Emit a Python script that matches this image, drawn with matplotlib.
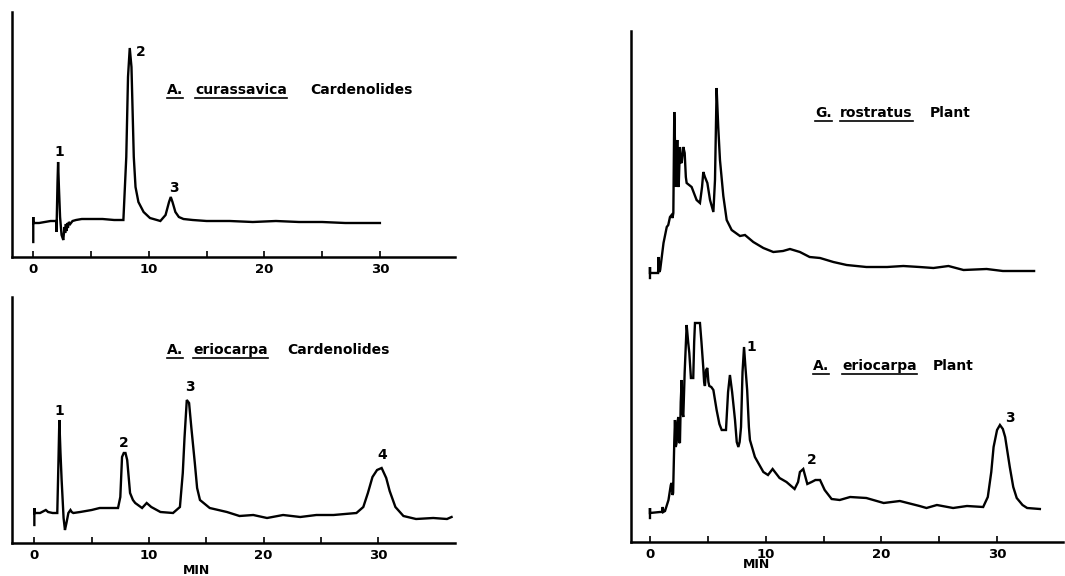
import matplotlib.pyplot as plt
from matplotlib.lines import Line2D

W, H = 1065, 576

# (retention time in min, detector response)
cur_cd = [(0, 15), (0, 40), (0, 34), (0.5, 34), (1.0, 35), (1.5, 36), (2.0, 36), (2.0, 25),
          (2.03, 36), (2.1, 75), (2.15, 95), (2.22, 70), (2.32, 40), (2.45, 22), (2.6, 17),
          (2.7, 30), (2.76, 24), (2.82, 33), (2.88, 26), (2.94, 34), (3.0, 29), (3.08, 35),
          (3.2, 33), (3.4, 36), (3.7, 37), (4.2, 38), (5.0, 38), (6.0, 38), (7.0, 37), (7.8, 37),
          (8.05, 100), (8.2, 180), (8.35, 209), (8.5, 190), (8.7, 100), (8.85, 70), (9.1, 55),
          (9.55, 45), (10.1, 39), (11.0, 36), (11.45, 42), (11.75, 55), (11.9, 60), (12.05, 55),
          (12.3, 45), (12.6, 40), (13.0, 38), (13.8, 37), (15, 36), (17, 36), (19, 35), (21, 36),
          (23, 35), (25, 35), (27, 34), (30, 34)]

eri_cd = [(0, 18), (0, 35), (0, 30), (0.5, 30), (1.0, 33), (1.2, 31), (1.6, 30), (2.0, 30),
          (2.1, 80), (2.18, 123), (2.28, 90), (2.38, 63), (2.55, 25), (2.67, 13), (2.8, 20),
          (2.97, 30), (3.15, 33), (3.26, 31), (3.4, 30), (4.0, 31), (5.0, 33), (5.7, 35),
          (6.5, 35), (7.3, 35), (7.5, 46), (7.65, 86), (7.8, 90), (7.95, 90), (8.1, 83),
          (8.35, 50), (8.6, 43), (8.8, 40), (9.4, 35), (9.8, 40), (10.2, 36), (11.0, 31),
          (12.1, 30), (12.7, 36), (12.95, 70), (13.1, 105), (13.3, 143), (13.5, 140),
          (13.7, 115), (14.0, 80), (14.2, 55), (14.45, 43), (15.3, 35), (16.8, 31), (17.9, 27),
          (19.1, 28), (20.3, 25), (21.7, 28), (23.2, 26), (24.6, 28), (26.1, 28), (28.1, 30),
          (28.7, 36), (29.1, 50), (29.5, 66), (29.9, 73), (30.3, 75), (30.7, 65), (31.0, 52),
          (31.5, 36), (32.2, 27), (33.3, 24), (34.8, 25), (36.0, 24), (36.4, 26)]

gro_pl = [(0, 24), (0, 35), (0, 29), (0.7, 29), (0.74, 45), (0.8, 30), (0.88, 32), (1.17, 59),
          (1.45, 75), (1.58, 77), (1.73, 85), (1.87, 87), (1.95, 84), (2.02, 89), (2.1, 190),
          (2.18, 150), (2.25, 115), (2.36, 162), (2.42, 120), (2.48, 115), (2.59, 155),
          (2.66, 140), (2.74, 139), (2.88, 155), (3.0, 149), (3.1, 125), (3.17, 119), (3.6, 115),
          (4.03, 102), (4.32, 99), (4.5, 115), (4.61, 130), (4.75, 125), (4.96, 119), (5.19, 102),
          (5.48, 90), (5.62, 122), (5.76, 214), (5.9, 175), (6.05, 142), (6.34, 106), (6.63, 82),
          (7.06, 72), (7.78, 66), (8.21, 67), (8.93, 60), (9.8, 54), (10.66, 50), (11.5, 51),
          (12.1, 53), (12.96, 50), (13.8, 45), (14.7, 44), (15.85, 40), (17.0, 37), (18.7, 35),
          (20.5, 35), (21.9, 36), (23.3, 35), (24.5, 34), (25.8, 36), (27.1, 32), (29.1, 33),
          (30.5, 31), (33.2, 31)]

eri_pl = [(0, 24), (0, 34), (0, 29), (0.86, 30), (1.05, 30), (1.1, 35), (1.15, 30), (1.3, 31),
          (1.6, 42), (1.8, 57), (1.87, 59), (1.95, 47), (2.0, 49), (2.1, 100), (2.16, 122),
          (2.23, 95), (2.3, 99), (2.38, 120), (2.45, 125), (2.52, 100), (2.59, 99), (2.66, 140),
          (2.74, 162), (2.8, 130), (2.88, 125), (3.0, 170), (3.17, 217), (3.3, 200), (3.4, 189),
          (3.54, 164), (3.74, 164), (3.82, 200), (3.89, 219), (4.32, 219), (4.45, 200),
          (4.61, 174), (4.68, 160), (4.75, 156), (4.85, 172), (4.96, 174), (5.05, 160),
          (5.13, 156), (5.3, 155), (5.48, 152), (5.76, 132), (6.0, 118), (6.2, 112), (6.57, 112),
          (6.75, 150), (6.91, 167), (7.1, 150), (7.35, 122), (7.5, 100), (7.64, 95), (7.75, 100),
          (7.87, 115), (8.0, 170), (8.13, 195), (8.25, 175), (8.4, 152), (8.55, 115), (8.64, 102),
          (9.07, 85), (9.8, 70), (10.2, 67), (10.6, 73), (11.2, 64), (11.8, 60), (12.5, 53),
          (12.8, 60), (12.96, 70), (13.25, 73), (13.6, 58), (13.97, 60), (14.3, 62), (14.7, 62),
          (15.1, 52), (15.7, 43), (16.4, 42), (17.3, 45), (18.7, 44), (20.2, 39), (21.6, 41),
          (23.3, 36), (23.9, 34), (24.8, 37), (26.2, 34), (27.4, 36), (28.8, 35), (29.2, 45),
          (29.5, 70), (29.7, 95), (30.0, 112), (30.25, 117), (30.5, 113), (30.7, 105),
          (31.1, 75), (31.4, 55), (31.7, 44), (32.2, 37), (32.6, 34), (33.7, 33)]

major_ticks = [0, 10, 20, 30]
minor_ticks = [5, 15, 25]

# G. rostratus trace sits above the A. eriocarpa one on the shared axis
GRO_SHIFT = 240

fig = plt.figure(figsize=(W / 100, H / 100), dpi=100)


def setup(ax, xlim, ylim, xlabels=True):
    ax.set_xlim(*xlim)
    ax.set_ylim(*ylim)
    for side in ['top', 'right']:
        ax.spines[side].set_visible(False)
    for side in ['left', 'bottom']:
        ax.spines[side].set_linewidth(1.8)
    ax.set_yticks([])
    ax.set_xticks(major_ticks)
    ax.set_xticks(minor_ticks, minor=True)
    ax.set_xticklabels([str(t) for t in major_ticks])
    ax.tick_params(axis='x', which='both', direction='in', length=4, width=1.2,
                   labelsize=9.5, pad=4)
    for lab in ax.get_xticklabels():
        lab.set_fontweight('bold')


def trace(ax, pts, shift=0):
    ax.plot([p[0] for p in pts], [p[1] + shift for p in pts], color='black', lw=1.7,
            solid_joinstyle='miter')


ax1 = fig.add_axes([12 / W, 1 - 257 / H, 443 / W, 245 / H])
setup(ax1, (-1.84, 36.5), (0, 245))
trace(ax1, cur_cd)

ax2 = fig.add_axes([12 / W, 1 - 543 / H, 443 / W, 246 / H])
setup(ax2, (-1.95, 36.7), (0, 246))
trace(ax2, eri_cd)

ax3 = fig.add_axes([631 / W, 1 - 542 / H, 432 / W, 511 / H])
setup(ax3, (-1.64, 35.7), (0, 511))
trace(ax3, gro_pl, GRO_SHIFT)
trace(ax3, eri_pl)


def ftext(x, y, s, size=10, **kw):
    return fig.text(x / W, 1 - y / H, s, fontsize=size, fontweight='bold',
                    ha=kw.pop('ha', 'left'), va='center', **kw)


underlined = []
titles = [
    (90, [(167, 'A.', True), (195, 'curassavica', True), (310, 'Cardenolides', False)]),
    (350, [(167, 'A.', True), (193, 'eriocarpa', True), (287, 'Cardenolides', False)]),
    (113, [(815, 'G.', True), (840, 'rostratus', True), (930, 'Plant', False)]),
    (366, [(813, 'A.', True), (842, 'eriocarpa', True), (933, 'Plant', False)]),
]
for y, words in titles:
    for x, s, ul in words:
        t = ftext(x, y, s)
        if ul:
            underlined.append((t, y))

peak_labels = [(59, 152, '1'), (141, 52, '2'), (174, 188, '3'),
               (59, 411, '1'), (124, 443, '2'), (190, 387, '3'), (382, 455, '4'),
               (751, 347, '1'), (812, 460, '2'), (1010, 418, '3')]
for x, y, s in peak_labels:
    ftext(x, y, s, ha='center')

ftext(197, 570, 'MIN', size=9, ha='center')
ftext(757, 565, 'MIN', size=9, ha='center')

# underline the genus / species words
renderer = fig.canvas.get_renderer()
for t, y in underlined:
    bb = t.get_window_extent(renderer)
    yy = 1 - (y + 8) / H
    fig.add_artist(Line2D([bb.x0 / W, bb.x1 / W], [yy, yy], color='black', lw=1.2))

fig.savefig('out.png', dpi=100)
